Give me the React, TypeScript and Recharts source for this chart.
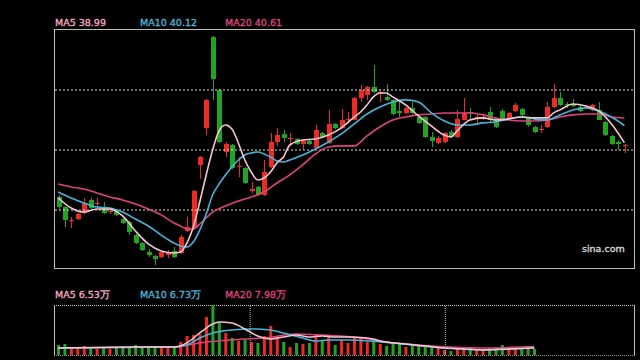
import React from 'react';
import { ComposedChart, Bar, Line, XAxis, YAxis, ReferenceLine, Cell } from 'recharts';

// ---- price candles (index 0..88) ----
const opens = [35.40,34.73,33.85,33.94,34.34,35.20,34.95,34.67,34.38,34.47,33.94,33.74,32.88,32.35,31.76,31.50,31.43,31.56,31.83,31.69,33.15,33.41,37.51,39.96,45.97,42.47,38.37,38.83,37.35,37.31,35.82,36.06,35.53,37.38,39.03,39.56,39.20,39.23,38.90,39.10,38.63,39.63,38.96,40.22,39.96,40.45,40.49,41.94,42.14,42.67,42.30,42.01,41.81,41.08,40.95,41.28,40.68,40.68,39.36,38.96,39.03,39.69,39.36,40.49,41.00,40.58,40.58,41.01,40.62,41.08,40.55,41.08,41.21,40.62,40.02,39.85,40.02,41.34,41.94,41.55,41.55,41.34,41.30,41.15,41.15,40.35,39.43,39.03,38.74];
const closes = [34.73,33.87,33.90,34.27,35.00,34.67,35.02,34.34,34.45,34.21,33.68,33.08,32.35,31.89,31.56,31.30,31.76,31.69,31.43,32.75,33.41,35.79,38.04,41.81,43.20,39.03,38.90,37.31,37.42,36.32,35.90,35.53,37.05,39.03,39.49,39.30,39.26,38.90,39.10,38.90,39.82,39.36,40.22,39.96,40.49,40.52,41.94,42.47,42.67,42.34,42.36,41.81,40.88,40.95,41.28,40.95,40.29,39.36,39.10,39.30,39.63,39.36,40.55,40.95,40.92,40.65,40.66,40.49,40.02,40.55,40.95,41.48,40.82,40.15,39.69,39.92,41.34,41.94,41.48,41.45,41.41,41.08,41.36,41.48,40.49,39.49,38.90,38.90,38.80];
const highs = [35.50,34.80,34.07,34.35,35.33,35.30,35.33,35.06,34.55,34.55,34.00,33.80,32.95,32.40,31.95,31.55,31.85,31.89,32.08,32.85,34.07,35.86,38.10,41.87,46.05,42.55,39.03,38.90,38.04,37.40,36.38,36.12,37.84,39.63,39.96,39.82,39.63,39.30,39.16,39.20,40.15,39.70,41.15,40.30,41.20,41.01,42.00,42.80,42.75,44.12,42.47,42.86,41.87,41.67,41.35,41.67,40.75,40.75,39.69,39.40,39.70,39.80,41.15,41.94,41.28,40.82,40.80,41.34,40.70,41.20,41.01,41.60,41.30,40.70,40.10,40.15,41.67,42.86,42.34,41.70,41.90,41.45,41.50,41.55,41.67,40.42,39.50,39.16,38.90];
const lows = [34.60,33.41,33.35,33.90,34.30,34.60,34.67,34.30,34.30,34.15,33.60,32.88,32.30,31.80,31.43,30.90,31.35,31.37,31.38,31.60,33.10,33.35,36.58,39.49,41.81,38.96,38.04,37.25,36.72,36.25,35.66,35.46,35.46,37.30,38.77,39.03,38.83,38.83,38.50,38.83,38.57,39.30,38.90,39.90,39.90,40.29,40.45,41.67,41.81,42.25,41.67,41.75,40.82,40.68,40.90,40.90,40.22,39.30,38.70,38.90,38.96,39.30,39.30,40.45,40.49,40.15,40.45,40.30,39.96,40.49,40.49,41.00,40.75,40.02,39.63,39.63,39.96,41.28,41.41,41.30,41.35,41.00,41.20,41.10,40.45,39.43,38.83,38.50,38.30];

// ---- volume in 万 (index 0..74; the panel shows no bars after) ----
const volumes = [9.3,10.2,6.5,7.4,8.4,7.4,5.6,6.5,5.6,6.5,7.4,7.4,9.3,7.4,6.5,7.4,8.4,7.4,6.5,12.1,17.7,18.6,19.5,35.3,46.5,29.8,20.5,15.8,13.0,14.0,12.1,11.2,17.7,27.0,16.7,12.1,7.4,11.2,10.2,11.2,18.6,14.0,16.7,9.3,14.0,11.2,16.7,16.7,12.1,14.9,10.2,8.4,11.2,10.2,7.4,8.4,8.4,7.4,6.5,6.5,4.7,3.7,7.4,6.5,6.5,5.6,5.6,6.5,6.5,9.3,6.5,7.4,6.5,6.5,5.6];

// ---- moving averages: [candle index, value] ----
const ma5Pts: [number, number][] = [[0,35.33],[2,34.67],[4,34.40],[6,34.60],[8,34.60],[10,34.14],[12,33.15],[14,32.29],[16,31.83],[18,31.69],[19,31.76],[20,32.35],[21,33.41],[22,35.06],[23,36.85],[24,38.50],[25,39.76],[26,40.15],[27,39.89],[28,38.96],[29,37.84],[30,37.05],[31,36.52],[32,36.65],[33,37.05],[34,37.64],[35,38.04],[36,38.83],[38,39.16],[40,39.23],[42,39.49],[44,39.96],[46,40.68],[47,41.01],[48,41.48],[49,42.01],[50,42.27],[51,42.27],[52,42.01],[54,41.48],[56,40.75],[58,40.09],[60,39.49],[61,39.36],[62,39.76],[64,40.48],[66,40.62],[68,40.48],[70,40.55],[72,40.68],[74,40.62],[76,40.62],[77,40.95],[78,41.15],[80,41.54],[82,41.41],[84,41.08],[86,40.22],[88,38.99]];
const ma10Pts: [number, number][] = [[0,35.73],[2,35.33],[4,35.00],[6,34.73],[8,34.67],[10,34.40],[12,33.94],[14,33.48],[16,32.88],[18,32.35],[19,32.16],[20,32.09],[21,32.42],[22,33.21],[23,34.27],[24,35.53],[25,36.25],[26,36.85],[27,37.38],[28,37.84],[29,38.17],[30,38.30],[31,38.37],[32,38.24],[33,38.04],[34,37.77],[35,37.71],[36,37.84],[38,38.17],[40,38.57],[42,39.03],[44,39.56],[46,40.22],[48,40.88],[50,41.34],[52,41.67],[54,41.81],[56,41.67],[58,40.95],[60,40.42],[62,40.15],[64,40.15],[66,40.29],[68,40.35],[70,40.55],[72,40.68],[74,40.55],[76,40.48],[78,40.82],[80,41.15],[82,41.28],[84,41.08],[86,40.68],[88,40.12]];
const ma20Pts: [number, number][] = [[0,36.25],[2,36.06],[4,35.92],[6,35.66],[8,35.40],[10,35.20],[12,34.93],[14,34.60],[16,34.21],[18,33.68],[19,33.48],[20,33.28],[21,33.28],[22,33.61],[23,34.01],[24,34.40],[26,34.80],[28,35.13],[30,35.40],[32,35.73],[34,36.32],[36,36.85],[38,37.51],[40,38.24],[42,38.70],[44,38.77],[46,38.77],[48,39.43],[50,40.02],[52,40.48],[54,40.68],[56,40.82],[58,40.88],[60,40.95],[62,40.95],[64,40.95],[66,40.82],[68,40.62],[70,40.48],[72,40.42],[74,40.42],[76,40.48],[78,40.68],[80,40.82],[82,40.88],[84,40.88],[86,40.68],[88,40.61]];

const vma5Pts: [number, number][] = [[0,6.5],[12,7.4],[18,7.4],[20,11.2],[22,20.5],[24,28.8],[25,30.7],[27,29.8],[29,24.2],[31,17.7],[33,14.9],[35,16.7],[37,18.6],[39,16.7],[41,17.7],[43,16.7],[45,16.7],[48,15.8],[51,12.1],[54,10.2],[57,8.4],[60,6.5],[63,5.6],[66,4.7],[70,5.6],[74,6.53]];
const vma10Pts: [number, number][] = [[0,6.5],[18,7.4],[20,9.3],[22,15.8],[24,20.5],[27,23.3],[30,24.2],[33,23.3],[35,20.5],[38,15.8],[40,13.0],[42,14.0],[45,14.0],[50,12.1],[55,9.3],[60,6.5],[66,4.7],[74,6.73]];
const vma20Pts: [number, number][] = [[0,6.5],[18,7.4],[22,11.2],[27,14.0],[32,15.8],[37,19.5],[41,18.6],[44,17.7],[47,15.8],[51,12.1],[56,9.3],[61,7.4],[66,6.5],[74,7.98]];

const priceDomain = [30.57, 46.43];
const priceGrid = [34.535, 38.5, 42.465];
const volDomain = [0, 46.5];
const volSeparators = [30, 60];
const SLOTS = 90;

const RED = '#ee2a22';
const GREEN = '#1fa51f';
const C_MA5 = '#f7c6d2';
const C_MA10 = '#43b6d9';
const C_MA20 = '#df437c';
const T_MA5 = '#f5a5c0';

const toMap = (pts: [number, number][]) => new Map(pts);
const m5 = toMap(ma5Pts), m10 = toMap(ma10Pts), m20 = toMap(ma20Pts);
const v5 = toMap(vma5Pts), v10 = toMap(vma10Pts), v20 = toMap(vma20Pts);

const rows = Array.from({ length: SLOTS }, (_, i) => {
  const has = i < opens.length;
  return {
    i,
    range: has ? [lows[i], highs[i]] : null,
    o: has ? opens[i] : null,
    c: has ? closes[i] : null,
    h: has ? highs[i] : null,
    l: has ? lows[i] : null,
    ma5: m5.has(i) ? m5.get(i) : null,
    ma10: m10.has(i) ? m10.get(i) : null,
    ma20: m20.has(i) ? m20.get(i) : null,
  };
});

const volRows = Array.from({ length: SLOTS }, (_, i) => ({
  i,
  vol: i < volumes.length ? volumes[i] : null,
  up: i < opens.length ? closes[i] >= opens[i] : true,
  vma5: v5.has(i) ? v5.get(i) : null,
  vma10: v10.has(i) ? v10.get(i) : null,
  vma20: v20.has(i) ? v20.get(i) : null,
}));

const Candle = (props: any) => {
  const { x, y, width, height, payload } = props;
  if (!payload || payload.h == null) return null;
  const { o, c, h, l } = payload;
  const top = Math.min(y, y + height);
  const hh = Math.abs(height);
  const ppu = h - l > 0 ? hh / (h - l) : 0;
  const bTop = top + (h - Math.max(o, c)) * ppu;
  const bBot = top + (h - Math.min(o, c)) * ppu;
  const color = c >= o ? RED : GREEN;
  const cx = Math.round(x + width / 2);
  const bx = cx - 2;
  return (
    <g shapeRendering="crispEdges">
      <line x1={cx + 0.5} x2={cx + 0.5} y1={top} y2={top + hh} stroke={color} strokeWidth={1} />
      <rect x={bx} y={bTop} width={5} height={Math.max(1, bBot - bTop)} fill={color} />
    </g>
  );
};

const legendStyle = (left: number, top: number, color: string): React.CSSProperties => ({
  position: 'absolute', left, top, color, fontFamily: '"DejaVu Sans", sans-serif', fontSize: 9.5,
  lineHeight: '11px', whiteSpace: 'nowrap', WebkitTextStroke: `0.35px ${color}`,
});

export default function App() {
  return (
    <div style={{ position: 'absolute', left: 0, top: 0, width: 640, height: 360, background: '#000', overflow: 'hidden' }}>
      {/* price panel frame */}
      <div style={{ position: 'absolute', left: 54, top: 29, width: 581, height: 240, boxSizing: 'border-box', border: '1px solid #bdbdbd' }} />
      <div style={{ position: 'absolute', left: 0, top: 0 }}>
        <ComposedChart width={640} height={272} data={rows} margin={{ top: 30, right: 6, bottom: 2, left: 55 }}>
          <XAxis dataKey="i" type="category" hide />
          <YAxis type="number" domain={priceDomain} hide allowDataOverflow />
          {priceGrid.map((v) => (
            <ReferenceLine key={v} y={v} stroke="#dcdcdc" strokeDasharray="2 2" strokeWidth={1} />
          ))}
          <Bar dataKey="range" barSize={5} shape={<Candle />} isAnimationActive={false} />
          <Line type="monotone" dataKey="ma20" stroke={C_MA20} strokeWidth={1.6} dot={false} connectNulls isAnimationActive={false} />
          <Line type="monotone" dataKey="ma10" stroke={C_MA10} strokeWidth={1.6} dot={false} connectNulls isAnimationActive={false} />
          <Line type="monotone" dataKey="ma5" stroke={C_MA5} strokeWidth={1.6} dot={false} connectNulls isAnimationActive={false} />
        </ComposedChart>
      </div>
      <div style={legendStyle(55, 17, T_MA5)}>MA5 {ma5Pts[ma5Pts.length - 1][1].toFixed(2)}</div>
      <div style={legendStyle(140, 17, C_MA10)}>MA10 {ma10Pts[ma10Pts.length - 1][1].toFixed(2)}</div>
      <div style={legendStyle(225, 17, C_MA20)}>MA20 {ma20Pts[ma20Pts.length - 1][1].toFixed(2)}</div>
      <div style={{ ...legendStyle(582, 243, '#d8d8d8') }}>sina.com</div>

      {/* volume panel */}
      <div style={{ position: 'absolute', left: 54, top: 305, width: 1, height: 51, background: '#bdbdbd' }} />
      <div style={{ position: 'absolute', left: 634, top: 305, width: 1, height: 51, background: '#bdbdbd' }} />
      <div style={{ position: 'absolute', left: 54, top: 305, width: 581, height: 0, borderTop: '1px dotted #c8c8c8' }} />
      <div style={{ position: 'absolute', left: 54, top: 355, width: 581, height: 0, borderTop: '1px dotted #9a9a9a' }} />
      <div style={{ position: 'absolute', left: 0, top: 290 }}>
        <ComposedChart width={640} height={70} data={volRows} margin={{ top: 15, right: 6, bottom: 5, left: 55 }}>
          <XAxis xAxisId="c" dataKey="i" type="category" hide />
          <XAxis xAxisId="n" type="number" domain={[0, SLOTS]} hide />
          <YAxis type="number" domain={volDomain} hide allowDataOverflow />
          {volSeparators.map((s) => (
            <ReferenceLine key={s} xAxisId="n" x={s} stroke="#bbbbbb" strokeDasharray="1 1" />
          ))}
          <Bar xAxisId="c" dataKey="vol" barSize={3} isAnimationActive={false}>
            {volRows.map((r) => (
              <Cell key={r.i} fill={r.up ? RED : GREEN} />
            ))}
          </Bar>
          <Line xAxisId="c" type="monotone" dataKey="vma20" stroke={C_MA20} strokeWidth={1.5} dot={false} connectNulls isAnimationActive={false} />
          <Line xAxisId="c" type="monotone" dataKey="vma10" stroke={C_MA10} strokeWidth={1.5} dot={false} connectNulls isAnimationActive={false} />
          <Line xAxisId="c" type="monotone" dataKey="vma5" stroke={C_MA5} strokeWidth={1.5} dot={false} connectNulls isAnimationActive={false} />
        </ComposedChart>
      </div>
      <div style={legendStyle(55, 289, T_MA5)}>MA5 {vma5Pts[vma5Pts.length - 1][1].toFixed(2)}万</div>
      <div style={legendStyle(140, 289, C_MA10)}>MA10 {vma10Pts[vma10Pts.length - 1][1].toFixed(2)}万</div>
      <div style={legendStyle(225, 289, C_MA20)}>MA20 {vma20Pts[vma20Pts.length - 1][1].toFixed(2)}万</div>
    </div>
  );
}
